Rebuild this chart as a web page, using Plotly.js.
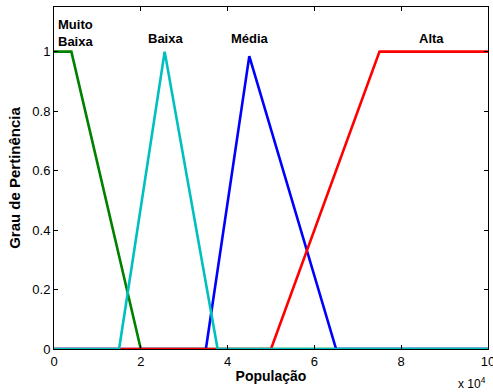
<!DOCTYPE html>
<html>
<head>
<meta charset="utf-8">
<script src="https://cdn.plot.ly/plotly-3.0.1.min.js"></script>
<style>html,body{margin:0;padding:0;background:#fff;}#chart{width:493px;height:392px;}</style>
</head>
<body>
<div id="chart"></div>
<script>
// x in units of 10^4 habitants
const muitoBaixaX = [0, 0.4, 2, 10];
const muitoBaixaY = [1, 1, 0, 0];
const mediaX = [0, 3.5, 4.5, 6.5, 10];
const mediaY = [0, 0, 0.985, 0, 0];
const altaX = [0, 5, 7.5, 10];
const altaY = [0, 0, 1, 1];
const baixaX = [0, 1.5, 2.55, 3.77, 10];
const baixaY = [0, 0, 1, 0, 0];
const labels = ["Muito<br>Baixa", "Baixa", "Média", "Alta"];
const labelX = [0.5, 2.56, 4.52, 8.7];
const labelY = [1.064, 1.045, 1.045, 1.045];
const xTicks = [0, 2, 4, 6, 8, 10];
const yTicks = [0, 0.2, 0.4, 0.6, 0.8, 1];
const yTickText = ["0", "0.2", "0.4", "0.6", "0.8", "1"];

const FONT = "Liberation Sans, Arial, Helvetica, sans-serif";
const lw = 2.6;
const traces = [
  {x: muitoBaixaX, y: muitoBaixaY, mode: "lines", line: {color: "#008000", width: lw}},
  {x: mediaX, y: mediaY, mode: "lines", line: {color: "#0000ff", width: lw}},
  {x: altaX, y: altaY, mode: "lines", line: {color: "#ff0000", width: lw}},
  {x: baixaX, y: baixaY, mode: "lines", line: {color: "#00bfbf", width: lw}}
];
traces.forEach(t => { t.showlegend = false; t.hoverinfo = "skip"; });

const annotations = labels.map((t, i) => ({
  x: labelX[i], y: labelY[i], xref: "x", yref: "y",
  text: "<b>" + t + "</b>", showarrow: false,
  font: {family: FONT, size: 13, color: "#000"}, xanchor: "center", yanchor: "middle"
}));
annotations.push({
  x: 1, y: -0.1, xref: "paper", yref: "paper", xanchor: "right", yanchor: "middle",
  text: "x 10<sup>4</sup>", showarrow: false, font: {family: FONT, size: 12, color: "#000"}
});

const axisCommon = {
  showgrid: false, zeroline: false, showline: true, linecolor: "#000", linewidth: 1,
  mirror: "ticks", ticks: "inside", ticklen: 4, tickcolor: "#000",
  tickfont: {family: FONT, size: 13, color: "#000"}, ticklabeloverflow: "allow"
};
const layout = {
  width: 493, height: 392,
  margin: {l: 53.5, r: 5, t: 7.3, b: 42.7},
  paper_bgcolor: "#fff", plot_bgcolor: "#fff",
  xaxis: Object.assign({}, axisCommon, {
    range: [0, 10], tickvals: xTicks, ticktext: xTicks.map(String),
    title: {text: "<b>População</b>", font: {family: FONT, size: 14, color: "#000"}, standoff: 3}
  }),
  yaxis: Object.assign({}, axisCommon, {
    range: [0, 1.15], tickvals: yTicks, ticktext: yTickText,
    title: {text: "<b>Grau de Pertinência</b>", font: {family: FONT, size: 15, color: "#000"}, standoff: 8}
  }),
  annotations: annotations
};
Plotly.newPlot("chart", traces, layout, {staticPlot: true, displayModeBar: false});
</script>
</body>
</html>
